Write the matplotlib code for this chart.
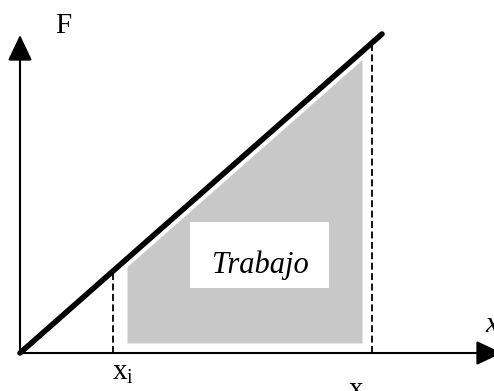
import matplotlib
matplotlib.use("Agg")
import matplotlib.pyplot as plt
import numpy as np
from matplotlib.patches import Rectangle

plt.rcParams["mathtext.fontset"] = "custom"
plt.rcParams["mathtext.rm"] = "Liberation Serif"
plt.rcParams["mathtext.it"] = "Liberation Serif:italic"
plt.rcParams["lines.scale_dashes"] = False

# force line F = k * x (diagram units)
line_x = [0, 362]
line_F = [0, 319]
x_i = 93
x_o = 352
# shaded work area, drawn a little inside the line
shade_x = [107, 342]
shade_gap = 8
shade_floor = 10
work_label = "Trabajo"

k = line_F[1] / line_x[1]

fig = plt.figure(figsize=(4.94, 3.91), dpi=100)
ax = fig.add_axes([0, 0, 1, 1])
ax.set_xlim(-20, 474)
ax.set_ylim(-38, 353)
ax.axis("off")

sx = np.array(shade_x)
ax.fill_between(sx, shade_floor, k * sx - shade_gap, color="#c8c8c8", lw=0, zorder=1)
ax.add_patch(Rectangle((170, 65), 139, 66, facecolor="white", edgecolor="none", zorder=2))
ax.text(240, 80, work_label, fontsize=22, family="Liberation Serif", style="italic",
        ha="center", va="baseline", zorder=3)

for xv in (x_i, x_o):
    ax.plot([xv, xv], [0, k * xv], color="black", lw=1.3, dashes=(5, 2.5), zorder=3)

ax.plot(line_x, line_F, color="black", lw=4.0, solid_capstyle="round", zorder=5)

# axes with arrow heads
arrow = dict(arrowstyle="-|>,head_length=1.1,head_width=0.52", mutation_scale=14.5,
             lw=1.5, color="black", shrinkA=0, shrinkB=0)
ax.annotate("", xy=(482, 0), xytext=(0, 0), arrowprops=arrow, zorder=4,
            annotation_clip=False)
ax.annotate("", xy=(0, 318), xytext=(0, 0), arrowprops=arrow, zorder=4,
            annotation_clip=False)

ax.text(35, 320, "F", fontsize=21, family="Liberation Serif", va="baseline")
ax.text(465, 21, "x", fontsize=21, family="Liberation Serif", style="italic", va="baseline")
ax.text(x_i - 1, -27, r"$\mathrm{x_i}$", fontsize=21, va="baseline")
ax.text(x_o - 24, -45, r"$\mathrm{x_o}$", fontsize=21, va="baseline")

fig.savefig("out.png", dpi=100)
